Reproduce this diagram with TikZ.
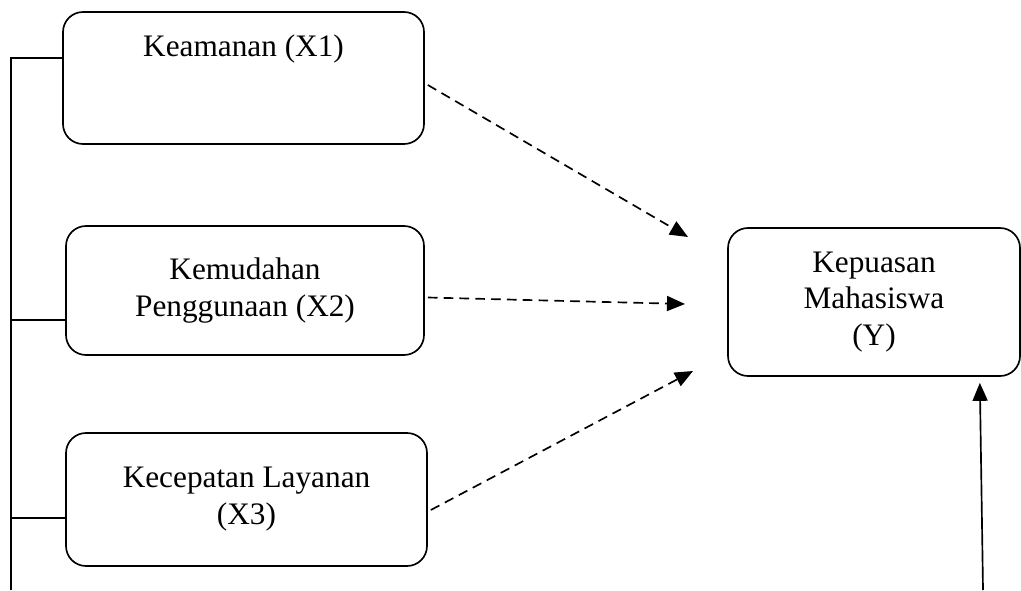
\documentclass[tikz,border=0pt]{standalone}
\usepackage{fontspec}
\setmainfont{Liberation Serif}
\usetikzlibrary{arrows.meta,calc,positioning}

\begin{document}
\begin{tikzpicture}[
    box/.style={draw, rounded corners=0.4cm, line width=0.95pt, align=center, font=\fontsize{17.8}{21}\selectfont},
    label/.style={align=center, font=\fontsize{17.8}{21}\selectfont},
    link/.style={line width=0.95pt},
    dasharrow/.style={-{Triangle[length=0.36cm,width=0.3cm]}, line width=0.95pt, dash pattern=on 5.5pt off 3.5pt},
    arrow/.style={-{Triangle[length=0.36cm,width=0.3cm]}, line width=0.95pt}
]
    \useasboundingbox (0,0) rectangle (20.42,11.8);

    % Independent variables
    \node[box, minimum width=7.22cm, minimum height=2.64cm] (x1) at (4.87,10.24) {};
    \node[label, yshift=-0.76cm] (x1text) at (x1.north) {Keamanan (X1)};
    \node[box, minimum width=7.16cm, minimum height=2.58cm] (x2) at (4.90,5.99) {Kemudahan\\Penggunaan (X2)};
    \node[box, minimum width=7.22cm, minimum height=2.66cm] (x3) at (4.93,1.81) {Kecepatan Layanan\\(X3)};

    % Dependent variable
    \node[box, minimum width=5.84cm, minimum height=2.96cm] (y) at (17.48,5.76) {Kepuasan\\Mahasiswa\\(Y)};

    % Left bracket line
    \coordinate (b1) at (0.22,10.64);
    \coordinate (b2) at (0.22,5.40);
    \coordinate (b3) at (0.22,1.44);
    \coordinate (bend) at (0.22,0);
    \draw[link] (b1 -| x1.west) -- (b1) -- (bend);
    \draw[link] (b2) -- (b2 -| x2.west);
    \draw[link] (b3) -- (b3 -| x3.west);

    % Dashed arrows
    \coordinate (t1) at (13.76,7.06);
    \coordinate (t2) at (13.70,5.72);
    \coordinate (t3) at (13.86,4.38);
    \draw[dasharrow] ([xshift=0.06cm,yshift=-0.14cm]x1.east) -- (t1);
    \draw[dasharrow] ([xshift=0.06cm,yshift=-0.14cm]x2.east) -- (t2);
    \draw[dasharrow] ([xshift=0.06cm,yshift=-0.21cm]x3.east) -- (t3);

    % Arrow from below
    \coordinate (ybottom) at (19.66,0);
    \draw[arrow] (ybottom) -- ($(y.south east)+(-0.82,-0.12)$);
\end{tikzpicture}
\end{document}
